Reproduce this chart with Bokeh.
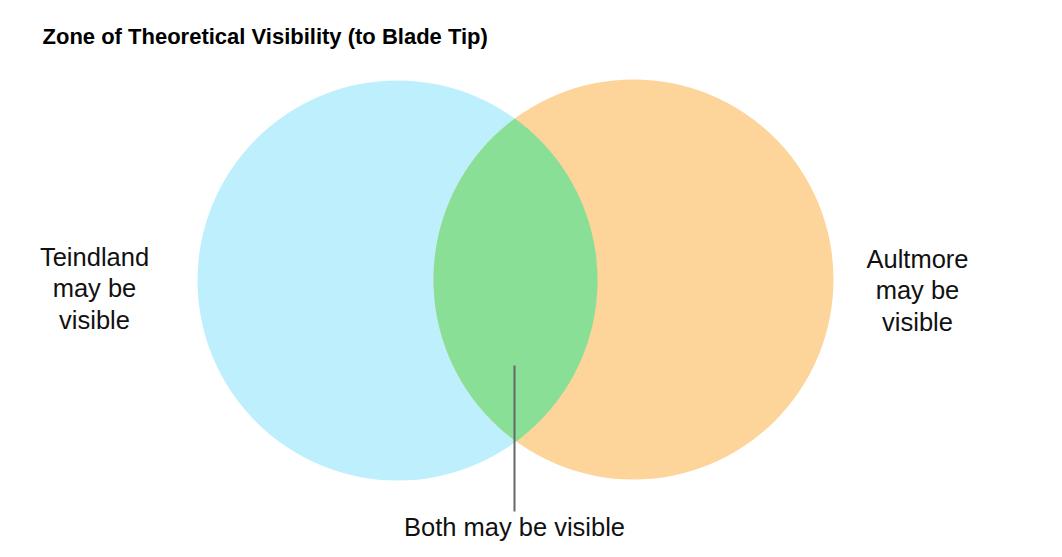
import numpy as np
from bokeh.plotting import figure
from bokeh.models import Range1d, ColumnDataSource
from bokeh.core.properties import value
from bokeh.embed import file_html
from bokeh.resources import INLINE

# ---- data ----
title_text = "Zone of Theoretical Visibility (to Blade Tip)"
set_names = ["Teindland", "Aultmore"]
set_labels = ["Teindland\nmay be\nvisible", "Aultmore\nmay be\nvisible"]
set_colors = ["#BDEFFD", "#FDD49A"]
overlap_label = "Both may be visible"
overlap_color = "#8ADF97"
# circle geometry in chart units (1 unit = 1 px)
center_x = [397, 633]
center_y = [280, 279]
radius = [200, 200]
label_x = [94, 917]
label_y = [288, 290]

W, H = 1046, 541
p = figure(width=W, height=H, output_backend="svg", toolbar_location=None,
           x_range=Range1d(0, W), y_range=Range1d(H, 0),
           min_border=0, outline_line_color=None)
p.axis.visible = False
p.grid.visible = False
p.background_fill_color = "white"
p.border_fill_color = "white"

FONT = value("Liberation Sans")

# circles
src = ColumnDataSource(dict(x=center_x, y=center_y, r=radius, c=set_colors))
p.circle(x="x", y="y", radius="r", fill_color="c", line_color=None, source=src)

# lens (intersection) computed from circle geometry
x1, y1, r1 = center_x[0], center_y[0], radius[0]
x2, y2, r2 = center_x[1], center_y[1], radius[1]
d = np.hypot(x2 - x1, y2 - y1)
a = (r1**2 - r2**2 + d**2) / (2 * d)
h = np.sqrt(r1**2 - a**2)
ang1 = np.arctan2(y2 - y1, x2 - x1)
half1 = np.arctan2(h, a)
ta = np.linspace(ang1 - half1, ang1 + half1, 200)
ang2 = np.arctan2(y1 - y2, x1 - x2)
half2 = np.arctan2(h, d - a)
tb = np.linspace(ang2 - half2, ang2 + half2, 200)
lx = np.concatenate([x1 + r1 * np.cos(ta), x2 + r2 * np.cos(tb)])
ly = np.concatenate([y1 + r1 * np.sin(ta), y2 + r2 * np.sin(tb)])
p.patch(lx, ly, fill_color=overlap_color, line_color=None)

# leader line for overlap label
mid_x = (x1 + x2) / 2
p.segment(x0=[mid_x - 1], y0=[365], x1=[mid_x - 1], y1=[511],
          line_color="#666666", line_width=2)

# labels
p.text(x=label_x, y=label_y, text=set_labels, text_font=FONT,
       text_font_size="25.5px", text_align="center", text_baseline="middle",
       text_line_height=1.14, text_color="#111111")
p.text(x=[mid_x - 1], y=[526], text=[overlap_label], text_font=FONT,
       text_font_size="25.5px", text_align="center", text_baseline="middle",
       text_color="#111111")
p.text(x=[42], y=[36], text=[title_text], text_font=FONT,
       text_font_size="22px", text_font_style="bold", text_align="left",
       text_baseline="middle", text_color="#000000")

open("out.html", "w").write(file_html(p, INLINE))
